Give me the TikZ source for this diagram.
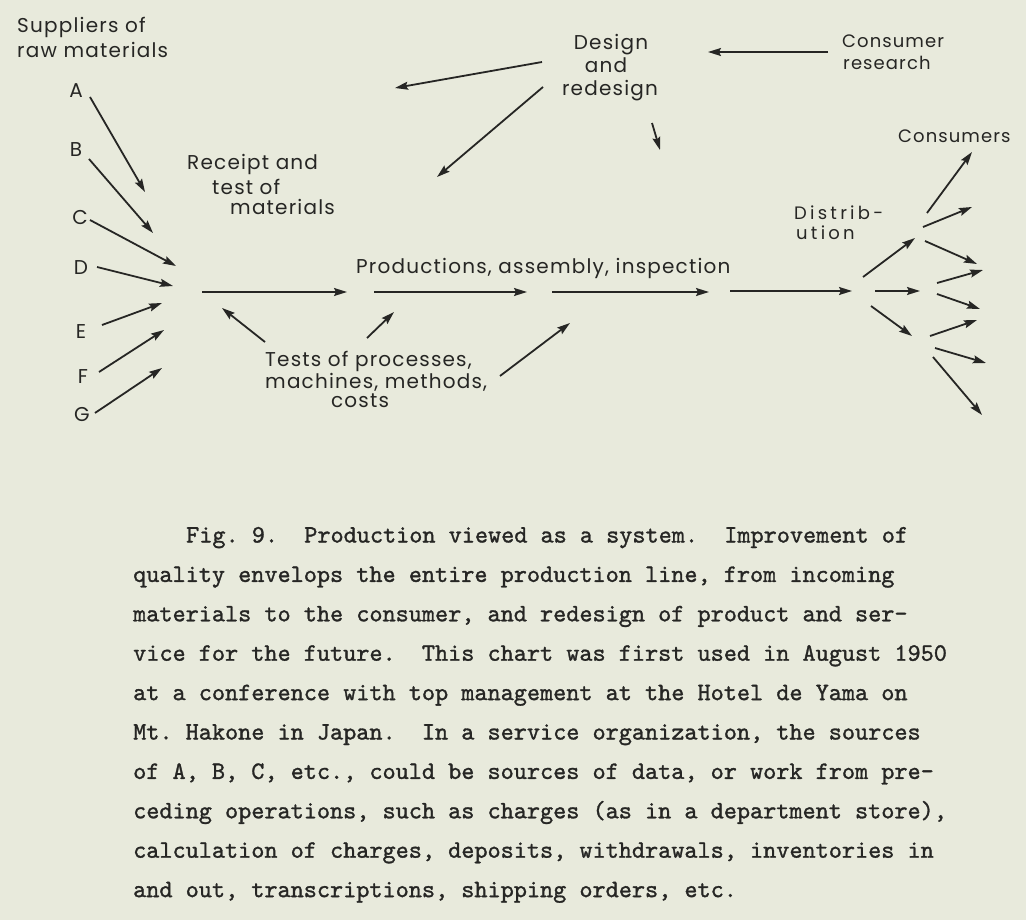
\documentclass[tikz,border=0pt]{standalone}
\usepackage{fontspec}
\usetikzlibrary{arrows.meta}
\newfontfamily\lblfamily[LetterSpace=6]{Poppins}
\newfontfamily\lblwidefamily[LetterSpace=18]{Poppins}
\newfontfamily\capfamily[FakeBold=1.2]{lmmono10-regular.otf}
\definecolor{bg}{RGB}{232,234,220}
\definecolor{ink}{RGB}{38,38,36}
\begin{document}
\begin{tikzpicture}[x=1pt,y=-1pt,
  lbl/.style={font=\lblfamily\fontsize{20}{24}\selectfont, text=ink, inner sep=0pt},
  lblw/.style={lbl, anchor=base west},
  lblc/.style={lbl, anchor=base},
  small/.style={font=\lblfamily\fontsize{18}{20}\selectfont},
  smallwide/.style={font=\lblwidefamily\fontsize{18}{20}\selectfont},
  capline/.style={font=\capfamily\fontsize{25}{39}\selectfont\frenchspacing, text=ink, inner sep=0pt, anchor=base west},
  arr/.style={draw=ink, line width=1.8pt, -{Stealth[length=13pt,width=8pt,inset=2pt]}}]
\fill[bg] (0,0) rectangle (1026,920);
\useasboundingbox (0,0) rectangle (1026,920);

% labels
\node[lblw] (sup1) at (17,33) {Suppliers of};
\node[lblw] (sup2) at (17,58) {raw materials};
\foreach \l/\x/\y in {A/76/91, B/76/150, C/80/218, D/81/268, E/81/332, F/83/377, G/82/415}
  \node[lbl] (l\l) at (\x,\y) {\l};
\node[lblw] (rec1) at (187,170) {Receipt and};
\node[lblw] (rec2) at (212,195) {test of};
\node[lblw] (rec3) at (230,215) {materials};
\node[lblw] (prod) at (356,273) {Productions, assembly, inspection};
\node[lblw] (tst1) at (265,366) {Tests of processes,};
\node[lblw] (tst2) at (265,388) {machines, methods,};
\node[lblc] (tst3) at (360,407) {costs};
\node[lblc] (des1) at (611,50) {Design};
\node[lblc] (des2) at (606,73) {and};
\node[lblc] (des3) at (610,96) {redesign};
\node[lblw, small] (cr1) at (842,48) {Consumer};
\node[lblw, small] (cr2) at (843,70) {research};
\node[lblw, small] (cons) at (898,143) {Consumers};
\node[lblw, smallwide] (dis1) at (794,220) {Distrib-};
\node[lblw, smallwide] (dis2) at (796,240) {ution};

% arrows
\foreach \n/\sx/\sy/\ex/\ey in {
  A/90/97/145/192, B/89/159/153/233, C/90/220/176/266, D/97/267/173/286,
  E/102/325/162/303, F/99/372/164/330, G/95/413/162/368,
  m1/202/292/347/292, m2/374/292/527/292, m3/552/292/709/292, m4/730/291/852/291,
  t1/265/342/222/308, t2/367/338/394/312, t3/500/376/570/323,
  d1/542/62/395/88, d2/543/87/437/177, d3/652/123/660/150,
  cr/828/52/708/52,
  f1/863/277/915/238, f2/875/291/920/291, f3/871/306/912/336,
  c1/927/213/972/152, c2/923/227/972/207, c3/925/241/977/264, c4/937/283/983/270,
  c5/937/294/980/309, c6/930/336/977/320, c7/935/348/986/363, c8/933/357/982/415}
{
  \coordinate (s\n) at (\sx,\sy);
  \coordinate (e\n) at (\ex,\ey);
  \draw[arr] (s\n) -- (e\n);
}

% caption
\node[capline] (cap1) at (186,542.5) {Fig.\ 9.\ \ Production viewed as a system.\ \ Improvement of};
\node[capline] (cap2) at (133,581.9) {quality envelops the entire production line, from incoming};
\node[capline] (cap3) at (133,621.3) {materials to the consumer, and redesign of product and ser-};
\node[capline] (cap4) at (133,660.7) {vice for the future.\ \ This chart was first used in August 1950};
\node[capline] (cap5) at (133,700.1) {at a conference with top management at the Hotel de Yama on};
\node[capline] (cap6) at (133,739.5) {Mt.\ Hakone in Japan.\ \ In a service organization, the sources};
\node[capline] (cap7) at (133,778.9) {of A, B, C, etc., could be sources of data, or work from pre-};
\node[capline] (cap8) at (133,818.3) {ceding operations, such as charges (as in a department store),};
\node[capline] (cap9) at (133,857.7) {calculation of charges, deposits, withdrawals, inventories in};
\node[capline] (cap10) at (133,897.1) {and out, transcriptions, shipping orders, etc.};
\end{tikzpicture}
\end{document}
